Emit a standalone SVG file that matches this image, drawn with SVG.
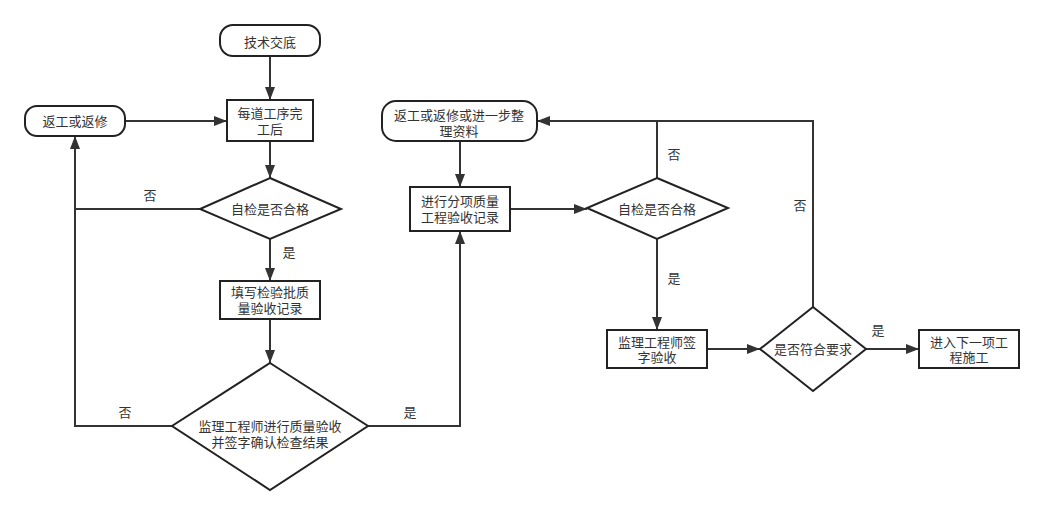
<svg xmlns="http://www.w3.org/2000/svg" width="1044" height="515" viewBox="0 0 1044 515">
<style>
.s{fill:#fff;stroke:#222;stroke-width:2}
.l{fill:none;stroke:#333;stroke-width:2}
text{font-family:"Liberation Sans","Noto Sans CJK SC",sans-serif;font-size:13px;fill:#333;text-anchor:middle;dominant-baseline:central}
</style>
<defs>
<marker id="a" viewBox="0 0 13 10" refX="13" refY="5" markerWidth="13" markerHeight="10" markerUnits="userSpaceOnUse" orient="auto">
<path d="M0,0L13,5L0,10z" fill="#333"/>
</marker>
</defs>
<rect width="1044" height="515" fill="#fff"/>
<g id="connectors">
<path class="l" d="M270,56V100" marker-end="url(#a)"/>
<path class="l" d="M125,121H227" marker-end="url(#a)"/>
<path class="l" d="M270,141V178" marker-end="url(#a)"/>
<path class="l" d="M200,209H75"/>
<path class="l" d="M270,239V281" marker-end="url(#a)"/>
<path class="l" d="M270,319V363" marker-end="url(#a)"/>
<path class="l" d="M172,426H75V136" marker-end="url(#a)"/>
<path class="l" d="M368,426H460V231" marker-end="url(#a)"/>
<path class="l" d="M460,141V187" marker-end="url(#a)"/>
<path class="l" d="M510,209H587" marker-end="url(#a)"/>
<path class="l" d="M657,178V121"/>
<path class="l" d="M813,307V121H537" marker-end="url(#a)"/>
<path class="l" d="M657,239V330" marker-end="url(#a)"/>
<path class="l" d="M707,349H760" marker-end="url(#a)"/>
<path class="l" d="M866,349H919" marker-end="url(#a)"/>
<text x="150" y="195">否</text>
<text x="289" y="252">是</text>
<text x="125" y="412">否</text>
<text x="410" y="412">是</text>
<text x="674" y="154">否</text>
<text x="800" y="205">否</text>
<text x="674" y="278">是</text>
<text x="878" y="330">是</text>
</g>
<g id="n1"><rect class="s" x="220" y="25" width="100" height="31" rx="13"/><text x="270" y="42">技术交底</text></g>
<g id="n2"><rect class="s" x="227" y="100" width="86" height="41"/><text x="270" y="113">每道工序完</text><text x="270" y="129">工后</text></g>
<g id="n3"><rect class="s" x="25" y="106" width="100" height="30" rx="12"/><text x="75" y="121">返工或返修</text></g>
<g id="n4"><path class="s" d="M270,178L341,209L270,239L200,209z"/><text x="270" y="209">自检是否合格</text></g>
<g id="n5"><rect class="s" x="220" y="281" width="100" height="38"/><text x="270" y="292">填写检验批质</text><text x="270" y="308">量验收记录</text></g>
<g id="n6"><path class="s" d="M270,363L368,426L270,490L172,426z"/><text x="270" y="426">监理工程师进行质量验收</text><text x="270" y="442">并签字确认检查结果</text></g>
<g id="n7"><rect class="s" x="382" y="101" width="155" height="40" rx="14"/><text x="459" y="115">返工或返修或进一步整</text><text x="459" y="131">理资料</text></g>
<g id="n8"><rect class="s" x="410" y="187" width="100" height="44"/><text x="460" y="201">进行分项质量</text><text x="460" y="217">工程验收记录</text></g>
<g id="n9"><path class="s" d="M657,178L728,208L657,239L587,208z"/><text x="657" y="209">自检是否合格</text></g>
<g id="n10"><rect class="s" x="607" y="330" width="100" height="38"/><text x="657" y="342">监理工程师签</text><text x="657" y="357">字验收</text></g>
<g id="n11"><path class="s" d="M813,307L866,349L813,391L760,349z"/><text x="813" y="349">是否符合要求</text></g>
<g id="n12"><rect class="s" x="919" y="330" width="100" height="38"/><text x="969" y="342">进入下一项工</text><text x="969" y="357">程施工</text></g>
</svg>
